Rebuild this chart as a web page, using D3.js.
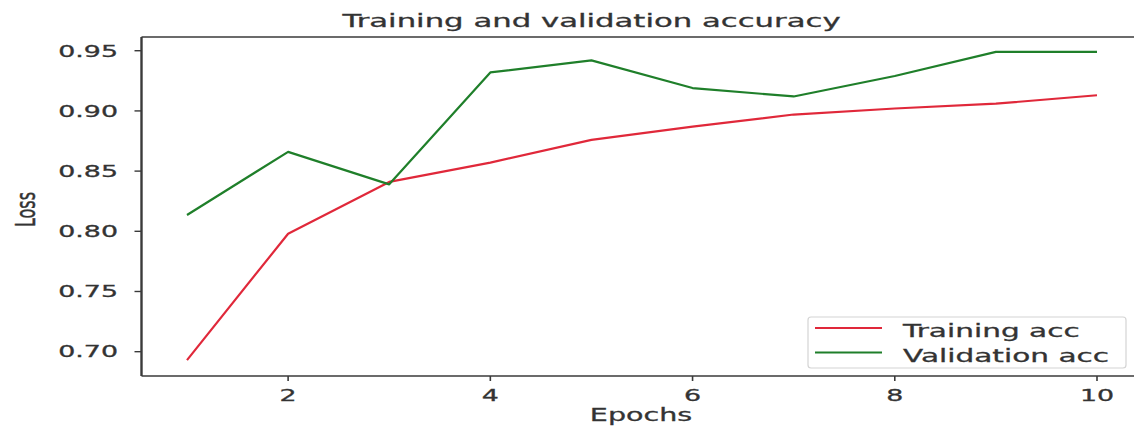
<!DOCTYPE html>
<html>
<head>
<meta charset="utf-8">
<script src="https://cdn.jsdelivr.net/npm/d3@7"></script>
<style>
  html, body { margin: 0; padding: 0; background: #fff; }
  svg { display: block; font-family: "DejaVu Sans", sans-serif; }
</style>
</head>
<body>
<svg id="chart" width="1134" height="429"></svg>
<script>
// Accuracy per training epoch
const epochs = [1, 2, 3, 4, 5, 6, 7, 8, 9, 10];
const trainingAcc = [0.693, 0.798, 0.841, 0.857, 0.876, 0.887, 0.897, 0.902, 0.906, 0.913];
const validationAcc = [0.8135, 0.866, 0.839, 0.932, 0.942, 0.919, 0.912, 0.929, 0.949, 0.949];
const xTicks = [2, 4, 6, 8, 10];
const yTicks = [0.70, 0.75, 0.80, 0.85, 0.90, 0.95];
const seriesNames = ["Training acc", "Validation acc"];

const svg = d3.select("#chart");
const SX = 1.68;            // horizontal text stretch of the figure
const box = { left: 141.5, right: 1142.5, top: 37, bottom: 376 };

const x = d3.scaleLinear().domain([0.55, 10.45]).range([box.left, box.right]);
const y = d3.scaleLinear().domain([0.6798, 0.9614]).range([box.bottom, box.top]);

function stretchedText(g, tx, ty, str, size, anchor, extra) {
  return g.append("text")
    .attr("transform", `translate(${tx},${ty}) scale(${SX},1)` + (extra || ""))
    .attr("text-anchor", anchor)
    .attr("font-size", size)
    .attr("fill", "#333")
    .attr("stroke", "#333")
    .attr("stroke-width", 0.3)
    .text(str);
}

// Series lines
const line = d3.line().x((d, i) => x(epochs[i])).y(d => y(d));
const series = [
  { values: trainingAcc, color: "#e0283a" },
  { values: validationAcc, color: "#1f7f2a" }
];
svg.append("g").selectAll("path").data(series).join("path")
  .attr("d", d => line(d.values))
  .attr("fill", "none")
  .attr("stroke", d => d.color)
  .attr("stroke-width", 2.2)
  .attr("stroke-linejoin", "round");

// Spines
const spine = svg.append("g").attr("stroke", "#3a3a3a").attr("fill", "none");
spine.append("line").attr("x1", box.left).attr("x2", box.right + 10)
  .attr("y1", box.top).attr("y2", box.top).attr("stroke-width", 1.5);
spine.append("line").attr("x1", box.left).attr("x2", box.right + 10)
  .attr("y1", box.bottom).attr("y2", box.bottom).attr("stroke-width", 1.6);
spine.append("line").attr("x1", box.left).attr("x2", box.left)
  .attr("y1", box.top).attr("y2", box.bottom).attr("stroke-width", 2.4);

// Y axis ticks and labels
const yAxis = svg.append("g");
yAxis.selectAll("line").data(yTicks).join("line")
  .attr("x1", box.left - 7).attr("x2", box.left)
  .attr("y1", d => y(d)).attr("y2", d => y(d))
  .attr("stroke", "#3a3a3a").attr("stroke-width", 1.4);
yTicks.forEach(v => stretchedText(yAxis, 118, y(v) + 5.8, d3.format(".2f")(v), 16, "end"));

// X axis ticks and labels
const xAxis = svg.append("g");
xAxis.selectAll("line").data(xTicks).join("line")
  .attr("x1", d => x(d)).attr("x2", d => x(d))
  .attr("y1", box.bottom).attr("y2", box.bottom + 5)
  .attr("stroke", "#3a3a3a").attr("stroke-width", 1.6);
xTicks.forEach(v => stretchedText(xAxis, x(v), 400.5, String(v), 16, "middle"));

// Titles
stretchedText(svg, 591.5, 27, "Training and validation accuracy", 18.3, "middle");
stretchedText(svg, 641, 421, "Epochs", 17, "middle");
stretchedText(svg, 35, 209.5, "Loss", 16, "middle", " rotate(-90)");

// Legend
const legend = svg.append("g");
legend.append("rect")
  .attr("x", 808).attr("y", 317).attr("width", 318).attr("height", 51)
  .attr("rx", 3).attr("fill", "#fff").attr("fill-opacity", 0.85)
  .attr("stroke", "#d4d4d4").attr("stroke-width", 1.2);
series.forEach((s, i) => {
  const ly = 328 + i * 24.5;
  legend.append("line")
    .attr("x1", 815).attr("x2", 882).attr("y1", ly).attr("y2", ly)
    .attr("stroke", s.color).attr("stroke-width", 2.2);
  stretchedText(legend, 903, ly + 9, seriesNames[i], 17.6, "start");
});
</script>
</body>
</html>
